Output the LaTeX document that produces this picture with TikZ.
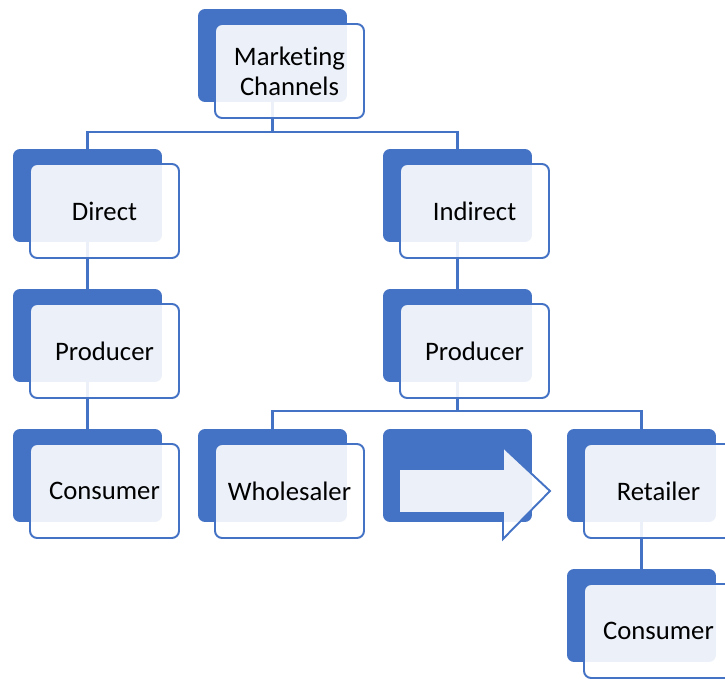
\documentclass[tikz,border=0pt]{standalone}
\usepackage{fontspec}
\setmainfont{Carlito}[Ligatures=NoCommon]
\definecolor{chblue}{HTML}{4472C4}
\begin{document}
\begin{tikzpicture}[x=.02cm,y=-.02cm,
  back/.style={fill=chblue,rounded corners=4pt,minimum width=2.98cm,minimum height=1.86cm,inner sep=0pt},
  front/.style={draw=chblue,line width=1.1pt,fill=white,fill opacity=.9,text opacity=1,rounded corners=4pt,minimum width=2.98cm,minimum height=1.88cm,inner sep=0pt,align=center,font=\fontsize{15.2}{17}\selectfont},
  conn/.style={draw=chblue,line width=1.2pt}]
\useasboundingbox (0,0) rectangle (725,679);
% back boxes
\foreach \n/\x/\y in {mc/272.5/55.5,direct/87.5/195.5,indirect/457.5/195.5,prodA/87.5/335.5,prodB/457.5/335.5,consA/87.5/475.5,whole/272.5/475.5,arrowb/457.5/475.5,retail/641.5/475.5,consB/641.5/615.5}{\node[back] (\n) at (\x,\y){};}
% connectors
\coordinate (j1) at (272.5,132);
\coordinate (j2) at (457.5,411);
\draw[conn] (mc.south) -- (j1) (direct.north) |- (j1) -| (indirect.north);
\draw[conn] (direct.south) -- (prodA.north) (prodA.south) -- (consA.north) (indirect.south) -- (prodB.north);
\draw[conn] (prodB.south) -- (j2) (whole.north) |- (j2) -| (retail.north) (retail.south) -- (consB.north);
% front boxes
\foreach \n/\v in {mc/{Marketing\\Channels},direct/Direct,indirect/Indirect,prodA/Producer,prodB/Producer,consA/Consumer,whole/Wholesaler,retail/Retailer,consB/Consumer}{\node[front] (\n f) at ([shift={(17,15.5)}]\n.center){\v};}
\draw[front,sharp corners,shift={(arrowb.center)}] (-58.5,-6.5) -- (45.5,-6.5) -- (45.5,-28.5) -- (92.5,15.5) -- (45.5,63.5) -- (45.5,37.5) -- (-58.5,37.5) -- cycle;
\end{tikzpicture}
\end{document}
